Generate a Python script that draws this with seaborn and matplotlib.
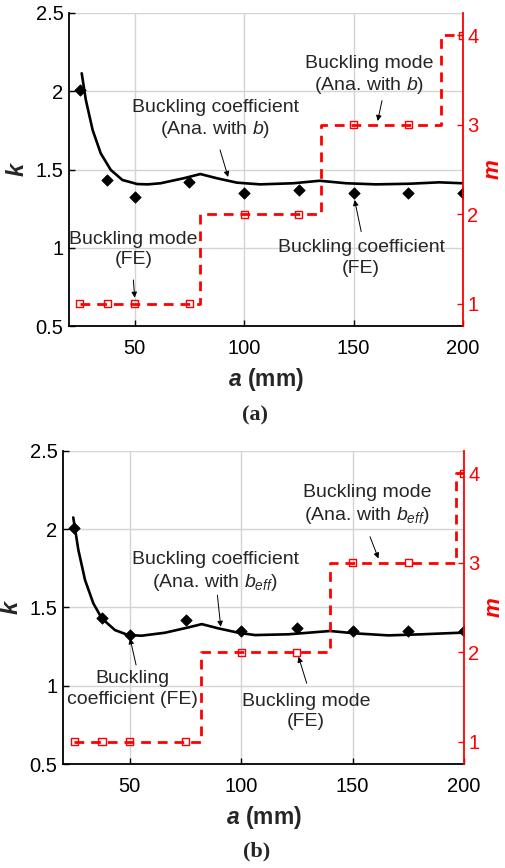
import numpy as np
import matplotlib
matplotlib.use('Agg')
import matplotlib.pyplot as plt
import seaborn as sns

# FE results (same in both panels)
a_fe = [25, 37.5, 50, 75, 100, 125, 150, 175, 200]
k_fe = [2.005, 1.432, 1.322, 1.421, 1.351, 1.368, 1.351, 1.351, 1.351]
m_fe = [1, 1, 1, 1, 2, 2, 3, 3, 4]

# analytical buckling coefficient, panel (a): with b
a_ana_a = [25.8, 27.7, 30.8, 34.5, 39.1, 44.4, 51.2, 56.0, 61.8, 72.4, 80.0, 87.6,
           96.7, 107.3, 122.4, 134.5, 146.7, 160.3, 175.5, 189.1, 200.0]
k_ana_a = [2.115, 1.944, 1.752, 1.603, 1.497, 1.433, 1.407, 1.405, 1.412, 1.444, 1.471, 1.444,
           1.416, 1.405, 1.412, 1.428, 1.412, 1.405, 1.409, 1.418, 1.412]

# analytical buckling coefficient, panel (b): with b_eff
a_ana_b = [24.6, 26.9, 29.9, 33.6, 37.4, 43.3, 49.3, 55.3, 65.8, 76.3, 82.3, 89.7,
           98.7, 106.2, 121.2, 139.9, 151.1, 166.1, 181.1, 196.5, 200.0]
k_ana_b = [2.074, 1.866, 1.674, 1.526, 1.430, 1.355, 1.323, 1.319, 1.338, 1.372, 1.393, 1.366,
           1.338, 1.323, 1.328, 1.349, 1.334, 1.321, 1.328, 1.337, 1.338]

# analytical buckling mode (step changes)
mode_a_x = [25, 80, 135.3, 190, 200]
mode_a_m = [1, 2, 3, 4, 4]
mode_b_x = [25, 82, 140, 196.5, 200]
mode_b_m = [1, 2, 3, 4, 4]

x_ticks = [50, 100, 150, 200]
k_ticks = [0.5, 1, 1.5, 2, 2.5]
m_ticks = [1, 2, 3, 4]

sns.set_style('white')
plt.rcParams['font.family'] = ['Liberation Sans', 'DejaVu Sans']
plt.rcParams['mathtext.fontset'] = 'custom'
plt.rcParams['mathtext.rm'] = 'Liberation Sans'
plt.rcParams['mathtext.it'] = 'Liberation Sans:italic'
plt.rcParams['mathtext.bf'] = 'Liberation Sans:bold:italic'

RED = '#ff0000'


def draw_panel(ax, ana_x, ana_k, mode_x, mode_m, notes):
    ax2 = ax.twinx()

    # k on left axis
    sns.lineplot(x=ana_x, y=ana_k, ax=ax, color='black', lw=1.9, sort=False)
    sns.scatterplot(x=a_fe, y=k_fe, ax=ax, marker='D', s=34, color='black',
                    edgecolor='black', linewidth=0.5, zorder=4)

    # m on right axis
    sns.lineplot(x=mode_x, y=mode_m, ax=ax2, color=RED, lw=2.0,
                 drawstyle='steps-post', linestyle=(0, (3.5, 2.5)), sort=False)
    sns.scatterplot(x=a_fe, y=m_fe, ax=ax2, marker='s', s=26, facecolors='none',
                    edgecolors=RED, linewidth=1.0, zorder=4)

    ax.set_xlim(20, 200)
    ax.set_ylim(0.5, 2.5)
    ax2.set_ylim(0.75, 4.25)
    ax.set_xticks(x_ticks)
    ax.set_yticks(k_ticks)
    ax.set_yticklabels(['0.5', '1', '1.5', '2', '2.5'])
    ax2.set_yticks(m_ticks)

    ax.grid(True, color='#d4d4d4', lw=1.0)
    ax.set_axisbelow(True)

    for s in ['top', 'right']:
        ax.spines[s].set_visible(False)
    for s in ['top', 'left', 'bottom']:
        ax2.spines[s].set_visible(False)
    ax.spines['left'].set_color('black')
    ax.spines['bottom'].set_color('black')
    ax.spines['left'].set_linewidth(1.3)
    ax.spines['bottom'].set_linewidth(1.3)
    ax2.spines['right'].set_color(RED)
    ax2.spines['right'].set_linewidth(1.3)

    ax.tick_params(axis='both', direction='in', length=4, width=1, labelsize=14.5,
                   colors='black', left=True, bottom=True)
    ax.tick_params(axis='x', pad=9)
    ax.tick_params(axis='y', pad=4)
    ax2.tick_params(axis='y', direction='in', length=4, width=1, labelsize=14.5,
                    colors=RED, pad=3, right=True)

    ax.set_xlabel(r'$\mathbf{a}$ (mm)', fontsize=16.5, fontweight='bold', labelpad=6)
    ax.set_ylabel('k', fontsize=17, fontweight='bold', fontstyle='italic', labelpad=5)
    ax2.set_ylabel('m', fontsize=16, fontweight='bold', fontstyle='italic',
                   color=RED, labelpad=3)

    for text, tx, ty, tail, head in notes:
        ax.text(tx, ty, text, ha='center', va='center', multialignment='center',
                fontsize=14, linespacing=1.25, zorder=6)
        ax.annotate('', xy=head, xytext=tail,
                    arrowprops=dict(arrowstyle='-|>', color='black', lw=0.7,
                                    mutation_scale=8, shrinkA=0, shrinkB=0),
                    zorder=6)
    return ax2


fig = plt.figure(figsize=(5.06, 8.68), dpi=100)
W, H = 506, 868
ax_a = fig.add_axes([69 / W, 1 - 326 / H, (463 - 69) / W, (326 - 13) / H])
ax_b = fig.add_axes([63 / W, 1 - 764 / H, (464 - 63) / W, (764 - 450.7) / H])

notes_a = [
    ('Buckling coefficient\n(Ana. with $b$)', 86.8, 1.82, (89.0, 1.625), (92.7, 1.452)),
    ('Buckling mode\n(Ana. with $b$)', 157.3, 2.10, (163.0, 1.94), (161.0, 1.81)),
    ('Buckling mode\n(FE)', 49.5, 0.99, (49.4, 0.794), (50.0, 0.681)),
    ('Buckling coefficient\n(FE)', 153.5, 0.934, (153.5, 1.103), (150.5, 1.305)),
]
notes_b = [
    ('Buckling coefficient\n(Ana. with $b_{eff}$)', 88.3, 1.725, (89.3, 1.578), (90.8, 1.376)),
    ('Buckling mode\n(Ana. with $b_{eff}$)', 156.4, 2.151, (157.8, 1.951), (161.6, 1.812)),
    ('Buckling\ncoefficient (FE)', 51.2, 0.979, (52.8, 1.132), (50.1, 1.302)),
    ('Buckling mode\n(FE)', 129.1, 0.834, (129.4, 1.015), (125.7, 1.185)),
]

draw_panel(ax_a, a_ana_a, k_ana_a, mode_a_x, mode_a_m, notes_a)
draw_panel(ax_b, a_ana_b, k_ana_b, mode_b_x, mode_b_m, notes_b)

fig.text(255 / W, 1 - 415.5 / H, '(a)', family='Liberation Serif', fontweight='bold',
         fontsize=16, ha='center', va='center')
fig.text(257 / W, 1 - 851 / H, '(b)', family='Liberation Serif', fontweight='bold',
         fontsize=16, ha='center', va='center')

fig.savefig('out.png', dpi=100)
